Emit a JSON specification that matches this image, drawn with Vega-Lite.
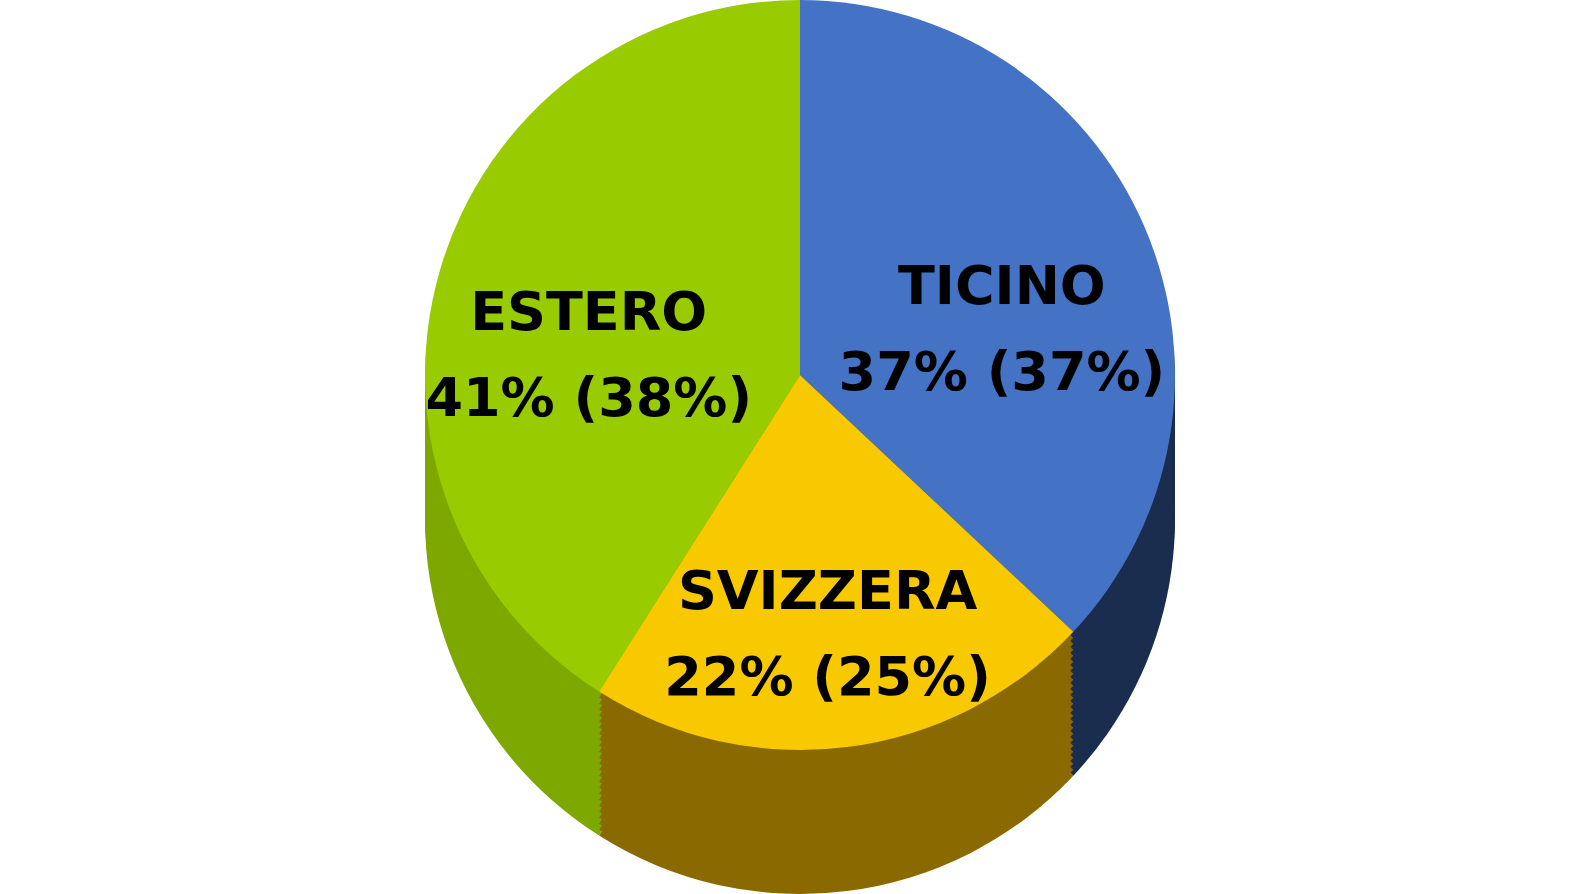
{
  "$schema": "https://vega.github.io/schema/vega-lite/v6.json",
  "width": 1570,
  "height": 894,
  "autosize": {"type": "fit", "contains": "padding"},
  "padding": 0,
  "background": "white",
  "view": {"stroke": null},
  "data": {
    "values": [
      {"area": "TICINO", "share": 37, "prev": 37, "ord": 1, "label": "TICINO\n37% (37%)"},
      {"area": "SVIZZERA", "share": 22, "prev": 25, "ord": 2, "label": "SVIZZERA\n22% (25%)"},
      {"area": "ESTERO", "share": 41, "prev": 38, "ord": 3, "label": "ESTERO\n41% (38%)"}
    ]
  },
  "encoding": {
    "theta": {"field": "share", "type": "quantitative", "stack": true},
    "order": {"field": "ord", "type": "quantitative"},
    "color": {"field": "area", "type": "nominal", "legend": null,
      "scale": {"domain": ["TICINO", "SVIZZERA", "ESTERO"], "range": ["#1B2D4F", "#8A6A00", "#7DA800"]}}
  },
  "layer": [
    {"mark": {"type": "arc", "outerRadius": 375, "xOffset": 15, "yOffset": 72}},
    {"mark": {"type": "arc", "outerRadius": 375, "xOffset": 15, "yOffset": 66}},
    {"mark": {"type": "arc", "outerRadius": 375, "xOffset": 15, "yOffset": 60}},
    {"mark": {"type": "arc", "outerRadius": 375, "xOffset": 15, "yOffset": 54}},
    {"mark": {"type": "arc", "outerRadius": 375, "xOffset": 15, "yOffset": 48}},
    {"mark": {"type": "arc", "outerRadius": 375, "xOffset": 15, "yOffset": 42}},
    {"mark": {"type": "arc", "outerRadius": 375, "xOffset": 15, "yOffset": 36}},
    {"mark": {"type": "arc", "outerRadius": 375, "xOffset": 15, "yOffset": 30}},
    {"mark": {"type": "arc", "outerRadius": 375, "xOffset": 15, "yOffset": 24}},
    {"mark": {"type": "arc", "outerRadius": 375, "xOffset": 15, "yOffset": 18}},
    {"mark": {"type": "arc", "outerRadius": 375, "xOffset": 15, "yOffset": 12}},
    {"mark": {"type": "arc", "outerRadius": 375, "xOffset": 15, "yOffset": 6}},
    {"mark": {"type": "arc", "outerRadius": 375, "xOffset": 15, "yOffset": 0}},
    {"mark": {"type": "arc", "outerRadius": 375, "xOffset": 15, "yOffset": -6}},
    {"mark": {"type": "arc", "outerRadius": 375, "xOffset": 15, "yOffset": -12}},
    {"mark": {"type": "arc", "outerRadius": 375, "xOffset": 15, "yOffset": -18}},
    {"mark": {"type": "arc", "outerRadius": 375, "xOffset": 15, "yOffset": -24}},
    {"mark": {"type": "arc", "outerRadius": 375, "xOffset": 15, "yOffset": -30}},
    {"mark": {"type": "arc", "outerRadius": 375, "xOffset": 15, "yOffset": -36}},
    {"mark": {"type": "arc", "outerRadius": 375, "xOffset": 15, "yOffset": -42}},
    {"mark": {"type": "arc", "outerRadius": 375, "xOffset": 15, "yOffset": -48}},
    {"mark": {"type": "arc", "outerRadius": 375, "xOffset": 15, "yOffset": -54}},
    {"mark": {"type": "arc", "outerRadius": 375, "xOffset": 15, "yOffset": -60}},
    {"mark": {"type": "arc", "outerRadius": 375, "xOffset": 15, "yOffset": -66}},
    {
      "mark": {"type": "arc", "outerRadius": 375, "xOffset": 15, "yOffset": -72},
      "encoding": {"color": {"field": "area", "type": "nominal", "legend": null,
        "scale": {"domain": ["TICINO", "SVIZZERA", "ESTERO"], "range": ["#4472C4", "#F9C900", "#99CC00"]}}}
    },
    {
      "mark": {"type": "text", "radius": 220, "xOffset": 15, "yOffset": -72, "lineBreak": "\n", "font": "DejaVu Sans", "fontWeight": "bold", "fontSize": 54, "lineHeight": 86, "align": "center", "baseline": "middle"},
      "encoding": {"text": {"field": "label", "type": "nominal"}, "color": {"value": "black"}}
    }
  ],
  "resolve": {"scale": {"color": "independent"}}
}
